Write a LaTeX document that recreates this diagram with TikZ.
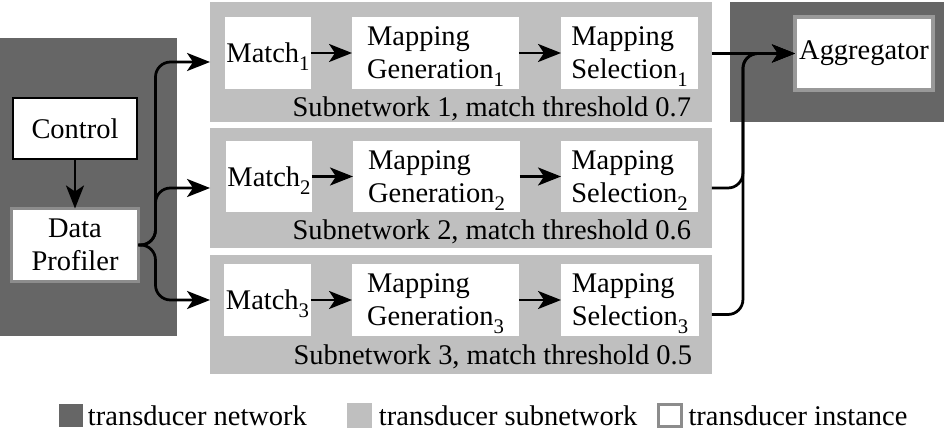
\documentclass[tikz,border=0pt]{standalone}
\usepackage{fontspec}
\setmainfont{Liberation Serif}
\usetikzlibrary{arrows.meta, positioning}
\definecolor{netgray}{HTML}{666666}
\definecolor{subgray}{HTML}{BFBFBF}
\definecolor{instgray}{HTML}{8C8C8C}
\definecolor{agggray}{HTML}{999999}
\newcommand{\idx}[1]{\raisebox{-4.5pt}[0pt][0pt]{\fontsize{11.8}{12}\selectfont #1}}

\begin{document}
\begin{tikzpicture}[x=0.02cm, y=-0.02cm, >={Stealth[length=0.46cm, width=0.36cm, inset=0.12cm]}, every node/.style={rectangle, inner sep=0pt, outer sep=0pt, font=\fontsize{16.2}{18.8}\selectfont}, network/.style={fill=netgray}, subnet/.style={fill=subgray, minimum width=10.04cm, minimum height=2.4cm}, inst/.style={fill=white, minimum height=1.44cm}, link/.style={->, line width=0.055cm}, flow/.style={->, line width=0.055cm, rounded corners=0.3cm}]
\useasboundingbox (0,0) rectangle (944,432);

\node[network, minimum width=3.54cm, minimum height=5.96cm] (net1) at (88.5,187) {};
\node[network, minimum width=4.28cm, minimum height=2.4cm] (net2) at (837,62) {};
\node[subnet] (sub1) at (461,62) {};
\node[subnet] (sub2) at (461,188) {};
\node[subnet, minimum height=2.38cm] (sub3) at (461,314.5) {};

\node[draw, line width=0.04cm, fill=white, minimum width=2.48cm, minimum height=1.22cm] (ctrl) at (75,128.5) {Control};
\node[draw=instgray, line width=0.06cm, fill=white, minimum width=2.54cm, minimum height=1.46cm, align=center] (prof) at (75,245) {Data\\Profiler};

\node[inst, minimum width=1.72cm] (match1) at (268,53) {Match\idx{1}};
\node[inst, minimum width=3.34cm, align=left] (gen1) at (435.5,53) {Mapping\\Generation\idx{1}};
\node[inst, minimum width=2.74cm, align=left] (sel1) at (629.5,53) {Mapping\\Selection\idx{1}};
\node[anchor=base east] (lab1) at (691,117) {Subnetwork 1, match threshold 0.7};

\node[inst, minimum width=1.72cm] (match2) at (269,176.5) {Match\idx{2}};
\node[inst, minimum width=3.34cm, align=left] (gen2) at (436.5,176.5) {Mapping\\Generation\idx{2}};
\node[inst, minimum width=2.74cm, align=left] (sel2) at (629.5,176.5) {Mapping\\Selection\idx{2}};
\node[anchor=base east] (lab2) at (691,240) {Subnetwork 2, match threshold 0.6};

\node[inst, minimum width=1.74cm] (match3) at (267.5,300) {Match\idx{3}};
\node[inst, minimum width=3.34cm, align=left] (gen3) at (435.5,300) {Mapping\\Generation\idx{3}};
\node[inst, minimum width=2.76cm, align=left] (sel3) at (630,300) {Mapping\\Selection\idx{3}};
\node[anchor=base east] (lab3) at (692,365) {Subnetwork 3, match threshold 0.5};

\node[draw=agggray, line width=0.08cm, fill=white, minimum width=2.76cm, minimum height=1.46cm] (agg) at (864,53.5) {Aggregator};

\draw[link] (ctrl) -- (prof);

\draw[flow] (prof.east) -- ++(17,0) |- (sub1.west);
\draw[flow] (prof.east) -- ++(17,0) |- (sub2.west);
\draw[flow] (prof.east) -- ++(17,0) |- (sub3.west |- match3);

\draw[link] (match1) -- (gen1);
\draw[link] (gen1) -- (sel1);
\draw[link] (match2) -- (gen2);
\draw[link] (gen2) -- (sel2);
\draw[link] (match3) -- (gen3);
\draw[link] (gen3) -- (sel3);

\draw[flow] (sub1.east |- agg.west) -- (agg.west);
\draw[flow] (sub2.east) -- ++(31,0) |- (agg.west);
\draw[flow] (sub3.east) -- ++(31,0) |- (agg.west);

\node[network, minimum size=0.48cm] (keynet) at (71,415.5) {};
\node[right=0.1cm of keynet] (txtnet) {transducer network};
\node[fill=subgray, minimum size=0.5cm] (keysub) at (359.5,415.5) {};
\node[right=0.14cm of keysub] (txtsub) {transducer subnetwork};
\node[draw=instgray, line width=0.06cm, fill=white, minimum size=0.46cm] (keyinst) at (670,415.5) {};
\node[right=0.14cm of keyinst] (txtinst) {transducer instance};
\end{tikzpicture}
\end{document}
